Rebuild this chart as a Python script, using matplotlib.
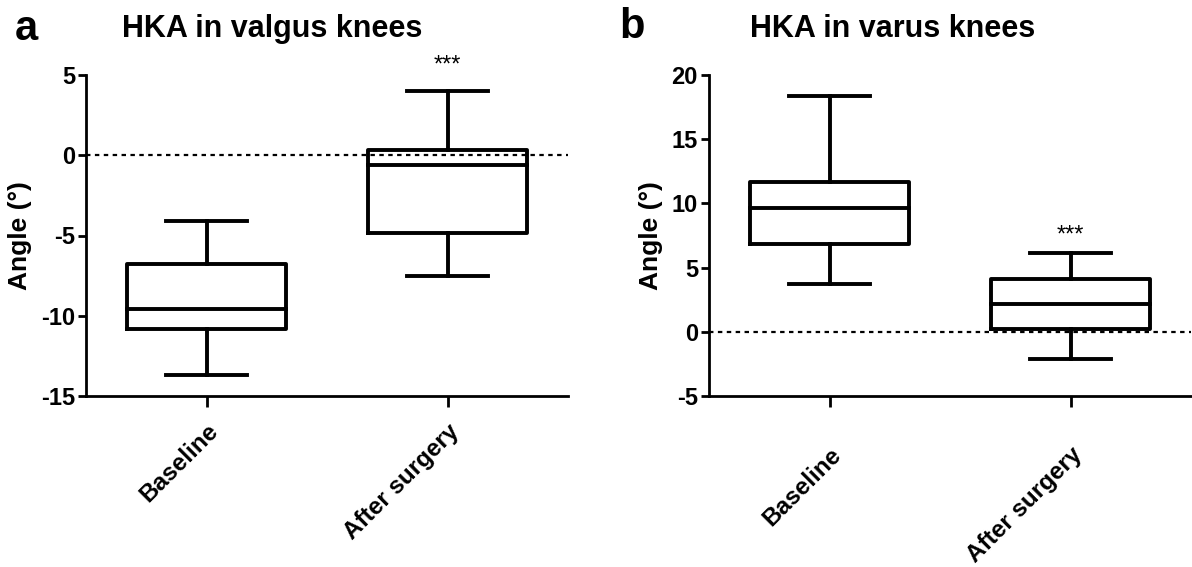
import matplotlib
matplotlib.use("Agg")
import matplotlib.pyplot as plt

plt.rcParams['font.family'] = ['Liberation Sans', 'DejaVu Sans']

groups = ["Baseline", "After surgery"]

# box stats: whisker low, q1, median, q3, whisker high
valgus_base = [-13.7, -10.85, -9.55, -6.75, -4.1]
valgus_post = [-7.5, -4.85, -0.6, 0.3, 4.0]
varus_base = [3.7, 6.85, 9.65, 11.7, 18.35]
varus_post = [-2.1, 0.25, 2.2, 4.15, 6.15]

valgus_ticks = [-15, -10, -5, 0, 5]
varus_ticks = [-5, 0, 5, 10, 15, 20]


def stats(vals, label):
    lo, q1, med, q3, hi = vals
    return dict(whislo=lo, q1=q1, med=med, q3=q3, whishi=hi, fliers=[], label=label)


def panel(ax, base, post, ticks, star_y, lab_pad):
    lw = 2.8
    props = dict(color="black", linewidth=lw, solid_capstyle="projecting")
    ax.bxp([stats(base, groups[0]), stats(post, groups[1])], positions=[0, 1],
           widths=0.66, capwidths=0.34, showfliers=False,
           boxprops=dict(color="black", linewidth=lw),
           medianprops=props, whiskerprops=props, capprops=props)
    ax.axhline(0, color="black", linewidth=1.6, linestyle=(0, (2.0, 2.0)), zorder=5)
    ax.set_xlim(-0.5, 1.5)
    ax.set_ylim(ticks[0], ticks[-1])
    ax.set_yticks(ticks)
    ax.set_yticklabels([str(t) for t in ticks], fontsize=17, fontweight="bold")
    ax.set_xticks([0, 1])
    ax.set_xticklabels(groups, fontsize=17.5, fontweight="bold", rotation=45,
                       ha="right", va="top", rotation_mode="anchor")
    ax.tick_params(axis="y", length=6, width=2, pad=2)
    ax.tick_params(axis="x", length=8, width=2, pad=lab_pad)
    for s in ["top", "right"]:
        ax.spines[s].set_visible(False)
    for s in ["left", "bottom"]:
        ax.spines[s].set_linewidth(2)
    ax.set_ylabel("Angle (°)", fontsize=19, fontweight="bold", labelpad=6)
    ax.text(1, star_y, "***", ha="center", va="center", fontsize=17, clip_on=False)


fig = plt.figure(figsize=(11.92, 5.67), dpi=100)
ax1 = fig.add_axes([86 / 1192, 1 - 396 / 567, 482 / 1192, 321 / 567])
ax2 = fig.add_axes([709 / 1192, 1 - 396 / 567, 482 / 1192, 321 / 567])

panel(ax1, valgus_base, valgus_post, valgus_ticks, 5.6, 9)
panel(ax2, varus_base, varus_post, varus_ticks, 7.5, 26)

fig.text(272 / 1192, 1 - 29 / 567, "HKA in valgus knees", ha="center", va="center",
         fontsize=22, fontweight="bold")
fig.text(893 / 1192, 1 - 29 / 567, "HKA in varus knees", ha="center", va="center",
         fontsize=22, fontweight="bold")
fig.text(26 / 1192, 1 - 29 / 567, "a", ha="center", va="center", fontsize=30, fontweight="bold")
fig.text(632 / 1192, 1 - 27 / 567, "b", ha="center", va="center", fontsize=30, fontweight="bold")

fig.savefig("out.png", dpi=100)
